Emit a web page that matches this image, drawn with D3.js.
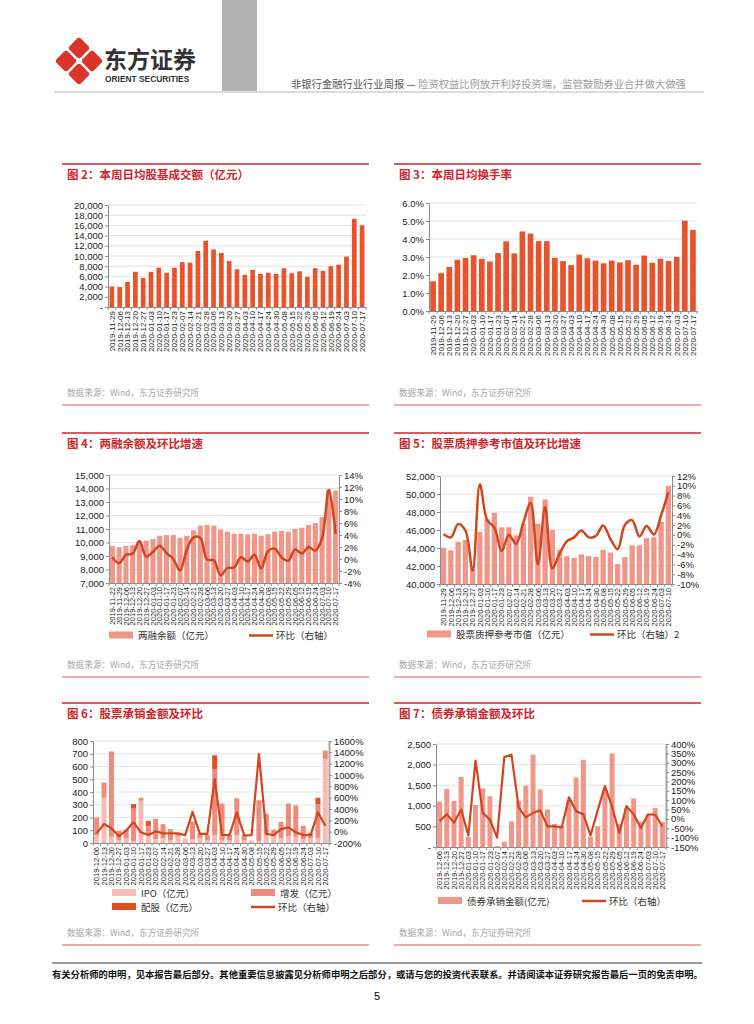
<!DOCTYPE html>
<html><head><meta charset="utf-8">
<script src="https://cdnjs.cloudflare.com/ajax/libs/d3/7.8.5/d3.min.js"></script>
<style>
body{margin:0;background:#fff}
svg{display:block;font-family:"Liberation Sans","Noto Sans CJK SC",sans-serif}
</style></head><body>
<svg id="page" width="754" height="1024"></svg>
<script>
// week-end dates (market closed 01-31 week)
const weeks = ["2019-11-22","2019-11-29","2019-12-06","2019-12-13","2019-12-20","2019-12-27","2020-01-03","2020-01-10","2020-01-17","2020-01-23","2020-02-07","2020-02-14","2020-02-21","2020-02-28","2020-03-06","2020-03-13","2020-03-20","2020-03-27","2020-04-03","2020-04-10","2020-04-17","2020-04-24","2020-04-30","2020-05-08","2020-05-15","2020-05-22","2020-05-29","2020-06-05","2020-06-12","2020-06-19","2020-06-24","2020-07-03","2020-07-10","2020-07-17"];
const tradeDates = weeks.slice(1);
const marginDates = weeks;
const pledgeDates = weeks.slice(1, 33);
const issueDates = weeks.slice(2);

// 图2 日均股基成交额(亿元)
const tradeValue = [4000,3900,4900,6900,5700,6900,7700,6700,7700,8800,8700,11000,13000,11300,10600,9000,7400,6300,7300,6500,6700,6500,7600,6600,7000,5900,7600,7100,8000,8300,9900,17300,16000];
const tradeTicks = [0,2000,4000,6000,8000,10000,12000,14000,16000,18000,20000];
// 图3 日均换手率(%)
const turnoverRate = [1.65,2.1,2.45,2.85,2.95,3.1,2.9,2.75,3.22,3.87,3.2,4.42,4.3,3.88,3.88,2.95,2.77,2.55,3.13,2.93,2.8,2.65,2.8,2.7,2.82,2.57,3.08,2.68,2.9,2.77,3.0,5.02,4.5];
const turnoverTicks = [0,1,2,3,4,5,6];
// 图4 两融余额 & 环比
const marginBalance = [9750,9650,9750,9800,10100,10150,10250,10500,10550,10550,10350,10500,10900,11250,11300,11250,10950,10800,10650,10650,10600,10650,10500,10620,10800,10850,10800,11000,11100,11300,11450,11880,13950,13850];
const marginChg = [0.3,-0.7,0.7,0.9,3.0,0.4,1.2,2.2,1.0,0.0,-1.9,1.5,3.6,3.5,-0.1,-0.2,-2.7,-1.5,-1.4,0.3,-0.4,0.7,-1.6,1.3,1.7,0.3,-0.3,1.6,0.9,2.0,1.4,3.5,11.5,4.2];
const marginTicks = [7000,8000,9000,10000,11000,12000,13000,14000,15000];
const marginChgTicks = [-4,-2,0,2,4,6,8,10,12,14];
// 图5 股票质押参考市值 & 环比
const pledgeValue = [44000,43750,44700,44900,41700,45800,47200,47900,46300,46300,45400,46700,49700,46700,49400,46000,43800,43100,42900,43300,43100,43000,43800,43500,42200,43000,44300,44300,45100,45200,46900,50900];
const pledgeChg = [0.2,-0.5,2.2,0.9,-7.3,10.3,3.0,1.5,-3.3,0.0,-1.8,2.5,6.5,-6.0,5.7,-6.8,-3.8,-1.3,-0.5,0.9,-0.5,-0.2,1.9,-0.8,-2.9,2.0,3.0,-0.3,1.8,0.1,4.0,8.7];
const pledgeTicks = [40000,42000,44000,46000,48000,50000,52000];
const pledgeChgTicks = [-10,-8,-6,-4,-2,0,2,4,6,8,10,12];
// 图6 股票承销金额 (亿元) & 环比
const ipoAmt    = [60,355,50,20,35,15,330,60,30,40,20,50,35,30,40,20,60,20,20,60,20,20,15,60,50,40,50,50,30,40,40,660];
const seoAmt    = [140,120,668,75,70,255,25,70,160,108,90,28,0,138,40,45,520,290,45,290,40,0,320,170,55,125,260,245,105,40,265,65];
const rightsAmt = [0,0,0,0,0,35,0,42,0,0,0,0,0,0,0,0,108,0,0,0,0,0,0,0,0,0,0,0,0,0,50,0];
const equityChg = [-25,135,60,-80,20,165,-10,-60,5,-30,-30,-30,-60,350,-40,-40,930,-55,-60,340,-65,-60,1370,-40,-60,45,75,-10,-60,-60,340,105];
const equityTicks = [0,100,200,300,400,500,600,700,800];
const equityChgTicks = [-200,0,200,400,600,800,1000,1200,1400,1600];
// 图7 债券承销金额 & 环比
const bondAmt = [1100,1410,1120,1700,245,1020,1420,1230,20,130,620,1120,1490,2240,1400,910,560,520,1150,1685,2120,250,500,1380,2270,560,940,1180,610,780,950,610];
const bondChg = [-12,25,-20,50,-88,312,32,-4,-100,330,343,60,8,32,47,-40,-40,-45,115,41,25,-88,47,175,65,-75,68,25,-48,25,22,-40];
const bondTicks = [0,500,1000,1500,2000,2500];
const bondChgTicks = [-150,-100,-50,0,50,100,150,200,250,300,350,400];

const svg = d3.select('#page');
const RED = '#d2232a', BAR = '#e9532b', PINK = '#f0978a', LINE = '#d2461f', AX = '#8c8c8c';
const CJK = '"Noto Sans CJK SC",sans-serif';

// ---------- header ----------
const logo = svg.append('g').attr('fill', '#d9352c');
[[79,48],[66,61],[92,61],[79,74]].forEach(function(c){
  logo.append('rect').attr('x',-8).attr('y',-8).attr('width',16).attr('height',16).attr('rx',3)
    .attr('transform','translate('+c[0]+','+c[1]+') rotate(45)');
});
svg.append('text').attr('x',104).attr('y',68).text('东方证券').attr('font-size',23).attr('font-weight','bold').attr('fill','#333').attr('font-family',CJK);
svg.append('text').attr('x',105).attr('y',82).text('ORIENT SECURITIES').attr('font-size',8.4).attr('font-weight','bold').attr('fill','#333').attr('font-family','Liberation Sans');
svg.append('rect').attr('x',222).attr('y',0).attr('width',35).attr('height',91).attr('fill','#b3b3b3');
const ht = svg.append('text').attr('x',291).attr('y',88).attr('font-size',10.3).attr('font-family',CJK);
ht.append('tspan').text('非银行金融行业行业周报 — ').attr('fill','#555');
ht.append('tspan').text(' 险资权益比例放开利好投资端，监管鼓励券业合并做大做强').attr('fill','#9a9a9a');
svg.append('line').attr('x1',54).attr('x2',704).attr('y1',92).attr('y2',92).attr('stroke','#d0d0d0').attr('stroke-width',1.5);

// ---------- footer ----------
svg.append('line').attr('x1',52).attr('x2',702).attr('y1',963).attr('y2',963).attr('stroke','#999').attr('stroke-width',2);
svg.append('text').attr('x',52).attr('y',978).attr('font-size',9.3).attr('font-weight','bold').attr('fill','#111').attr('font-family',CJK)
  .text('有关分析师的申明，见本报告最后部分。其他重要信息披露见分析师申明之后部分，或请与您的投资代表联系。并请阅读本证券研究报告最后一页的免责申明。');
svg.append('text').attr('x',377).attr('y',1000).attr('text-anchor','middle').attr('font-size',11).text('5');

function panel(x0, x1, top, title, srcY){
  svg.append('line').attr('x1',x0).attr('x2',x1).attr('y1',top).attr('y2',top).attr('stroke',RED).attr('stroke-width',1.5);
  svg.append('text').attr('x',x0+5).attr('y',top+15).text(title).attr('fill',RED).attr('font-size',11.5).attr('font-weight','bold').attr('font-family',CJK);
  svg.append('text').attr('x',x0+5).attr('y',srcY).text('数据来源：Wind，东方证券研究所').attr('fill','#a6a6a6').attr('font-size',8.6).attr('font-family',CJK);
  svg.append('line').attr('x1',x0).attr('x2',x1).attr('y1',srcY+9).attr('y2',srcY+9).attr('stroke','#e99090').attr('stroke-width',1.5);
}

function frame(o){
  const g = svg.append('g');
  const x = d3.scaleBand().domain(o.cats).range([o.l,o.r]).paddingInner(o.pad).paddingOuter(o.pad/2);
  const y = d3.scaleLinear().domain([o.ticks[0], o.ticks[o.ticks.length-1]]).range([o.b,o.t]);
  g.selectAll('.grid').data(o.ticks.slice(1)).join('line')
    .attr('x1',o.l).attr('x2',o.r).attr('y1',d=>y(d)).attr('y2',d=>y(d)).attr('stroke','#dcdcdc').attr('stroke-width',0.8);
  const ya = g.append('g').attr('transform','translate('+o.l+',0)')
    .call(d3.axisLeft(y).tickValues(o.ticks).tickFormat(o.fmt).tickSize(3).tickSizeOuter(0).tickPadding(2));
  ya.select('.domain').attr('stroke',AX);
  ya.selectAll('.tick line').attr('stroke',AX);
  ya.selectAll('text').attr('font-size',9.5).attr('fill','#222');
  const xa = g.append('g').attr('transform','translate(0,'+o.b+')')
    .call(d3.axisBottom(x).tickSize(0).tickSizeOuter(0));
  xa.select('.domain').attr('stroke',AX);
  xa.selectAll('text').attr('transform','rotate(-90)').attr('text-anchor','end')
    .attr('x',-4).attr('y',0).attr('dy','0.35em').attr('font-size',o.xfs).attr('fill','#222');
  const edges = o.cats.map(d=>x(d)-x.step()*o.pad/2).concat([o.r]);
  g.selectAll('.xt').data(edges).join('line').attr('x1',d=>d).attr('x2',d=>d)
    .attr('y1',o.b).attr('y2',o.b+3).attr('stroke',AX);
  return {g:g, x:x, y:y};
}

function rightAxis(o, ticks, sw){
  const y2 = d3.scaleLinear().domain([ticks[0], ticks[ticks.length-1]]).range([o.b,o.t]);
  const a = svg.append('g').attr('transform','translate('+o.r+',0)')
    .call(d3.axisRight(y2).tickValues(ticks).tickFormat(d=>d+'%').tickSize(3).tickSizeOuter(0).tickPadding(2));
  a.select('.domain').attr('stroke',sw>1?'#a6a6a6':AX).attr('stroke-width',sw);
  a.selectAll('.tick line').attr('stroke',AX);
  a.selectAll('text').attr('font-size',9.5).attr('fill','#222');
  return y2;
}

function bars(f, cats, vals, color, base){
  f.g.append('g').selectAll('rect').data(vals).join('rect')
    .attr('x',(d,i)=>f.x(cats[i])).attr('width',f.x.bandwidth())
    .attr('y',d=>f.y(d)).attr('height',d=>f.y(base)-f.y(d)).attr('fill',color);
}

function trend(f, y2, cats, vals, curve, w){
  const line = d3.line().x((d,i)=>f.x(cats[i])+f.x.bandwidth()/2).y(d=>y2(d)).curve(curve);
  svg.append('path').datum(vals).attr('d',line).attr('fill','none').attr('stroke',LINE).attr('stroke-width',w).attr('stroke-linejoin','round');
}

function legendBox(x, y, color, label){
  svg.append('rect').attr('x',x).attr('y',y-4).attr('width',24).attr('height',7).attr('fill',color);
  svg.append('text').attr('x',x+29).attr('y',y+3.5).text(label).attr('font-size',9.5).attr('fill','#333').attr('font-family',CJK);
}
function legendLine(x, y, label){
  svg.append('line').attr('x1',x).attr('x2',x+24).attr('y1',y).attr('y2',y).attr('stroke',LINE).attr('stroke-width',2.5);
  svg.append('text').attr('x',x+27).attr('y',y+3.5).text(label).attr('font-size',9.5).attr('fill','#333').attr('font-family',CJK);
}

const dashZero = f => d => d===0 ? '-' : d3.format(',')(d);

// ---------- 图2 ----------
panel(62, 369, 164, '图 2：本周日均股基成交额（亿元）', 396);
const f2 = frame({cats:tradeDates, l:108, r:366, t:205, b:307, pad:0.4, ticks:tradeTicks, fmt:dashZero(), xfs:8});
bars(f2, tradeDates, tradeValue, BAR, 0);

// ---------- 图3 ----------
panel(394, 701, 164, '图 3：本周日均换手率', 396);
const f3 = frame({cats:tradeDates, l:429, r:697, t:203, b:311, pad:0.3, ticks:turnoverTicks, fmt:d=>d.toFixed(1)+'%', xfs:8});
bars(f3, tradeDates, turnoverRate, BAR, 0);

// ---------- 图4 ----------
panel(62, 369, 433, '图 4：两融余额及环比增速', 668);
const o4 = {cats:marginDates, l:109, r:339, t:475, b:583, pad:0.24, ticks:marginTicks, fmt:d3.format(','), xfs:7.5};
const f4 = frame(o4);
bars(f4, marginDates, marginBalance, PINK, 7000);
const y4 = rightAxis(o4, marginChgTicks, 1);
trend(f4, y4, marginDates, marginChg, d3.curveCatmullRom.alpha(0.5), 2.5);
legendBox(109, 635.5, PINK, '两融余额（亿元）');
legendLine(249, 635.5, '环比（右轴）');

// ---------- 图5 ----------
panel(394, 701, 433, '图 5：股票质押参考市值及环比增速', 668);
const o5 = {cats:pledgeDates, l:440, r:672, t:476, b:584, pad:0.27, ticks:pledgeTicks, fmt:d3.format(','), xfs:7.5};
const f5 = frame(o5);
bars(f5, pledgeDates, pledgeValue, PINK, 40000);
const y5 = rightAxis(o5, pledgeChgTicks, 1);
trend(f5, y5, pledgeDates, pledgeChg, d3.curveCatmullRom.alpha(0.5), 2.5);
legendBox(427, 634.5, PINK, '股票质押参考市值（亿元）');
legendLine(590, 634.5, '环比（右轴）2');

// ---------- 图6 ----------
panel(62, 369, 703, '图 6：股票承销金额及环比', 936);
const o6 = {cats:issueDates, l:93, r:329, t:741, b:843, pad:0.32, ticks:equityTicks, fmt:d=>d, xfs:7.5};
const f6 = frame(o6);
const stack6 = d3.stack().keys(['ipo','seo','rights'])(issueDates.map((d,i)=>({ipo:ipoAmt[i], seo:seoAmt[i], rights:rightsAmt[i]})));
const c6 = ['#f6bbb2', '#ee8b7c', '#e2511f'];
stack6.forEach(function(layer, k){
  f6.g.append('g').selectAll('rect').data(layer).join('rect')
    .attr('x',(d,i)=>f6.x(issueDates[i])).attr('width',f6.x.bandwidth())
    .attr('y',d=>f6.y(d[1])).attr('height',d=>f6.y(d[0])-f6.y(d[1])).attr('fill',c6[k]);
});
const y6 = rightAxis(o6, equityChgTicks, 2);
trend(f6, y6, issueDates, equityChg, d3.curveLinear, 2.2);
legendBox(112, 893, c6[0], 'IPO（亿元）');
legendBox(251, 893, c6[1], '增发（亿元）');
legendBox(112, 907, c6[2], '配股（亿元）');
legendLine(251, 907, '环比（右轴）');

// ---------- 图7 ----------
panel(394, 701, 703, '图 7：债券承销金额及环比', 936);
const o7 = {cats:issueDates, l:436, r:666, t:744, b:847, pad:0.3, ticks:bondTicks, fmt:dashZero(), xfs:7.5};
const f7 = frame(o7);
bars(f7, issueDates, bondAmt, PINK, 0);
const y7 = rightAxis(o7, bondChgTicks, 2);
trend(f7, y7, issueDates, bondChg, d3.curveLinear, 2.2);
legendBox(438, 901, PINK, '债券承销金额(亿元)');
legendLine(582, 901, '环比（右轴）');
</script></body></html>
